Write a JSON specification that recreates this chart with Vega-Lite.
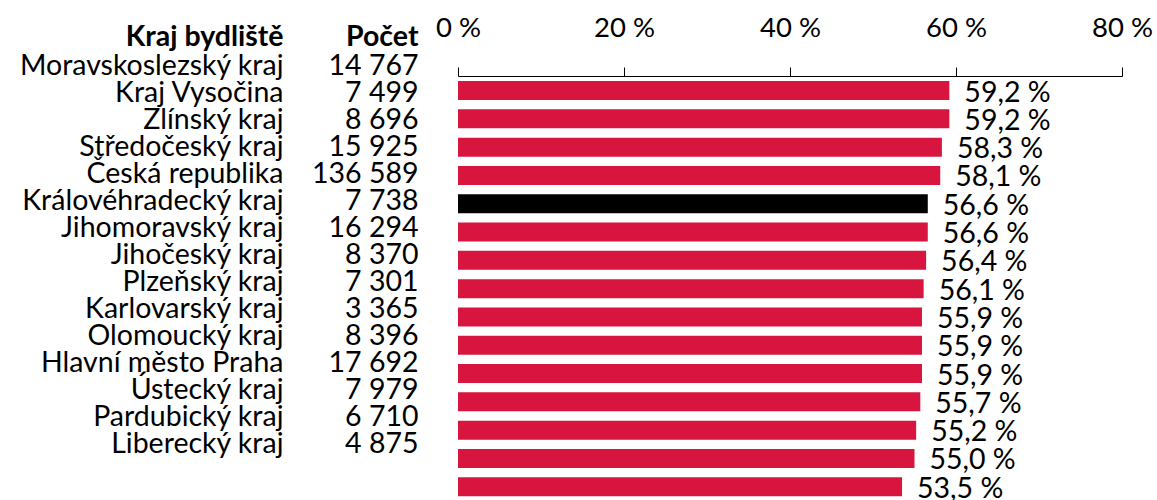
{
  "$schema": "https://vega.github.io/schema/vega-lite/v6.json",
  "width": 1157,
  "height": 500,
  "autosize": {"type": "none"},
  "padding": 0,
  "background": "white",
  "config": {
    "view": {"stroke": null},
    "font": "Lato",
    "axis": {"labelFont": "Lato", "titleFont": "Lato", "labelColor": "black", "titleColor": "black"}
  },
  "data": {
    "values": [
      {"region": "Moravskoslezský kraj", "count": 14767, "pct": 59.2},
      {"region": "Kraj Vysočina", "count": 7499, "pct": 59.2},
      {"region": "Zlínský kraj", "count": 8696, "pct": 58.3},
      {"region": "Středočeský kraj", "count": 15925, "pct": 58.1},
      {"region": "Česká republika", "count": 136589, "pct": 56.6},
      {"region": "Královéhradecký kraj", "count": 7738, "pct": 56.6},
      {"region": "Jihomoravský kraj", "count": 16294, "pct": 56.4},
      {"region": "Jihočeský kraj", "count": 8370, "pct": 56.1},
      {"region": "Plzeňský kraj", "count": 7301, "pct": 55.9},
      {"region": "Karlovarský kraj", "count": 3365, "pct": 55.9},
      {"region": "Olomoucký kraj", "count": 8396, "pct": 55.9},
      {"region": "Hlavní město Praha", "count": 17692, "pct": 55.7},
      {"region": "Ústecký kraj", "count": 7979, "pct": 55.2},
      {"region": "Pardubický kraj", "count": 6710, "pct": 55.0},
      {"region": "Liberecký kraj", "count": 4875, "pct": 53.5}
    ]
  },
  "transform": [
    {"calculate": "replace(format(datum.pct, '.1f'), '.', ',') + ' %'", "as": "lbl"}
  ],
  "layer": [
    {
      "mark": {"type": "point", "opacity": 0},
      "encoding": {
        "y": {
          "field": "region", "type": "nominal", "sort": null,
          "scale": {"type": "band", "range": [61, 466], "paddingInner": 0, "paddingOuter": 0},
          "axis": {
            "orient": "left", "offset": -283, "domain": false, "ticks": false, "tickSize": 0,
            "labelPadding": 0, "labelLimit": 1000, "labelFontSize": 28.5, "labelBaseline": "alphabetic",
            "labelAlign": "right", "labelOverlap": false,
            "title": "Kraj bydliště", "titleAngle": 0, "titleX": 0, "titleY": 45,
            "titleAlign": "right", "titleBaseline": "alphabetic", "titleFontSize": 28.5, "titleFontWeight": "bold"
          }
        }
      }
    },
    {
      "mark": {"type": "point", "opacity": 0},
      "encoding": {
        "y": {
          "field": "count", "type": "nominal", "sort": null,
          "scale": {"type": "band", "range": [61, 466], "paddingInner": 0, "paddingOuter": 0},
          "axis": {
            "orient": "left", "offset": -418, "domain": false, "ticks": false, "tickSize": 0,
            "labelPadding": 0, "labelLimit": 1000, "labelFontSize": 28.5, "labelBaseline": "alphabetic",
            "labelAlign": "right", "labelOverlap": false,
            "labelExpr": "replace(format(datum.value, ','), ',', ' ')",
            "title": "Počet", "titleAngle": 0, "titleX": 0, "titleY": 45,
            "titleAlign": "right", "titleBaseline": "alphabetic", "titleFontSize": 28.5, "titleFontWeight": "bold"
          }
        }
      }
    },
    {
      "encoding": {
        "x": {
          "field": "pct", "type": "quantitative",
          "scale": {"domain": [0, 80], "range": [458, 1122], "nice": false},
          "axis": {
            "orient": "top", "offset": -76, "values": [0, 20, 40, 60, 80],
            "labelExpr": "datum.value + ' %'", "grid": false, "title": null,
            "tickSize": 9, "tickColor": "black", "domainColor": "black",
            "labelPadding": 31, "labelBaseline": "alphabetic", "labelFontSize": 27.5,
            "labelFlush": false, "labelOverlap": false, "labelBound": false
          }
        },
        "y": {
          "field": "region", "type": "nominal", "sort": null,
          "scale": {"type": "band", "range": [76.4, 500.9], "paddingInner": 0.33, "paddingOuter": 0.165},
          "axis": null
        }
      },
      "layer": [
        {
          "mark": {"type": "bar"},
          "encoding": {
            "color": {
              "condition": {"test": "datum.region === 'Česká republika'", "value": "#000000"},
              "value": "#D7153F"
            }
          }
        },
        {
          "mark": {"type": "text", "align": "left", "baseline": "alphabetic", "dx": 15, "dy": 11, "fontSize": 28.5, "font": "Lato", "color": "black"},
          "encoding": {"text": {"field": "lbl"}}
        }
      ]
    }
  ],
  "resolve": {"scale": {"y": "independent"}, "axis": {"y": "independent"}}
}
